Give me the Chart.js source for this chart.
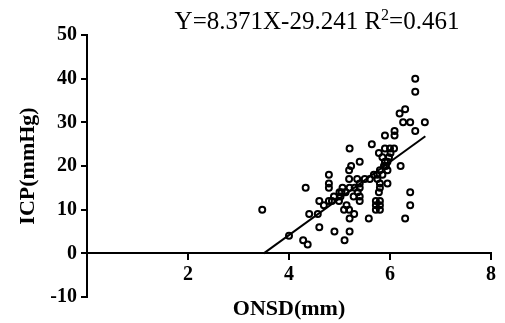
<!DOCTYPE html>
<html>
<head>
<meta charset="utf-8">
<script src="https://cdn.jsdelivr.net/npm/chart.js@4.4.0/dist/chart.umd.min.js"></script>
<style>
    html, body { margin: 0; padding: 0; background: #fff; }
    #wrap { width: 505px; height: 323px; }
</style>
</head>
<body>
<div id="wrap"><canvas id="scatterChart"></canvas></div>
<script>
// ONSD (mm) vs ICP (mmHg)
const onsdValues = [
    3.47, 4.0, 4.33, 4.28, 4.37, 4.4, 4.57, 4.6, 4.6, 4.69,
    4.79, 4.79, 4.79, 4.79, 4.89, 4.9, 4.99, 5.0, 5.06, 5.04,
    5.09, 5.1, 5.2, 5.2, 5.2, 5.19, 5.19, 5.23, 5.19, 5.2,
    5.29, 5.28, 5.3, 5.35, 5.36, 5.4, 5.4, 5.4, 5.4, 5.4,
    5.58, 5.64, 5.6, 5.68, 5.75, 5.72, 5.72, 5.72, 5.8, 5.8,
    5.8, 5.78, 5.8, 5.8, 5.78, 5.8, 5.9, 5.9, 5.95, 5.92,
    5.95, 5.98, 6.0, 6.08, 6.09, 6.09, 6.01, 6.21, 6.19, 6.3,
    6.26, 6.4, 6.3, 6.4, 6.4, 6.5, 6.5, 6.5, 6.69, 5.88,
    5.9, 5.85, 5.95, 5.75, 5.02, 4.85, 5.12, 5.14, 5.5, 5.85
];
const icpValues = [
    10, 4, 15, 3, 2, 9, 9, 12, 6, 11,
    12, 18, 16, 15, 13, 5, 12, 14, 15, 14,
    10, 3, 24, 5, 8, 10, 19, 20, 17, 15,
    9, 13, 15, 17, 14, 12, 21, 15, 13, 16,
    8, 25, 17, 18, 17, 12, 11, 10, 12, 11,
    10, 14, 15, 16, 23, 19, 27, 24, 16, 20,
    21, 22, 24, 24, 28, 27, 23, 20, 32, 33,
    30, 30, 8, 11, 14, 40, 37, 28, 30, 20,
    21, 22, 19, 18, 13, 12, 14, 11, 17, 18
];

// regression line end points, as drawn
const fitX = [3.5, 6.7];
const fitY = [0, 26.8];

const xTicks = [0, 2, 4, 6, 8];
const yTicks = [-10, 0, 10, 20, 30, 40, 50];

const equationMain = 'Y=8.371X-29.241 R';
const equationSup = '2';
const equationEnd = '=0.461';
const xTitle = 'ONSD(mm)';
const yTitle = 'ICP(mmHg)';

const serif = '"Liberation Serif", "Times New Roman", serif';

// draws the equation above the plot, with a raised 2
const equationPlugin = {
    id: 'equation',
    afterDraw(chart) {
        const ctx = chart.ctx;
        ctx.save();
        ctx.fillStyle = '#000';
        ctx.textBaseline = 'alphabetic';
        ctx.textAlign = 'left';
        ctx.font = '25px ' + serif;
        const w1 = ctx.measureText(equationMain).width;
        const w3 = ctx.measureText(equationEnd).width;
        ctx.font = '16px ' + serif;
        const w2 = ctx.measureText(equationSup).width;
        let x = 317 - (w1 + w2 + w3) / 2;
        const base = 29;
        ctx.font = '25px ' + serif;
        ctx.fillText(equationMain, x, base);
        x += w1;
        ctx.font = '16px ' + serif;
        ctx.fillText(equationSup, x, base - 9);
        x += w2;
        ctx.font = '25px ' + serif;
        ctx.fillText(equationEnd, x, base);
        ctx.restore();
    }
};

const ctx = document.getElementById('scatterChart').getContext('2d');
const scatterChart = new Chart(ctx, {
    type: 'scatter',
    data: {
        datasets: [{
            label: 'ICP',
            data: onsdValues.map((x, i) => ({ x: x, y: icpValues[i] })),
            pointStyle: 'circle',
            pointRadius: 3,
            pointBorderWidth: 2,
            pointBorderColor: '#000',
            pointBackgroundColor: 'rgba(0,0,0,0)',
            pointHoverRadius: 3
        }, {
            type: 'line',
            label: 'Fit',
            data: fitX.map((x, i) => ({ x: x, y: fitY[i] })),
            borderColor: '#000',
            borderWidth: 2,
            pointRadius: 0,
            fill: false
        }]
    },
    options: {
        responsive: true,
        maintainAspectRatio: false,
        animation: false,
        layout: {
            padding: { left: 0, right: 14, top: 35, bottom: 26 }
        },
        plugins: {
            legend: { display: false },
            tooltip: { enabled: false }
        },
        scales: {
            x: {
                type: 'linear',
                position: { y: 0 },
                min: 0,
                max: 8,
                afterBuildTicks: (scale) => {
                    scale.ticks = xTicks.map(v => ({ value: v }));
                },
                ticks: {
                    color: '#000',
                    font: { family: serif, size: 20, weight: 'bold' },
                    padding: 3,
                    callback: (v) => v === 0 ? '' : v
                },
                grid: {
                    drawOnChartArea: false,
                    drawTicks: true,
                    tickLength: 6,
                    color: '#000',
                    lineWidth: 2
                },
                border: { display: true, color: '#000', width: 2 },
                title: {
                    display: true,
                    text: xTitle,
                    color: '#000',
                    font: { family: serif, size: 22, weight: 'bold' },
                    padding: { top: 7, bottom: 0 }
                }
            },
            y: {
                type: 'linear',
                position: 'left',
                min: -10,
                max: 50,
                afterBuildTicks: (scale) => {
                    scale.ticks = yTicks.map(v => ({ value: v }));
                },
                afterFit: (scale) => {
                    scale.width = 87;
                },
                ticks: {
                    color: '#000',
                    font: { family: serif, size: 20, weight: 'bold' },
                    padding: 4
                },
                grid: {
                    drawOnChartArea: false,
                    drawTicks: true,
                    tickLength: 6,
                    color: '#000',
                    lineWidth: 2
                },
                border: { display: true, color: '#000', width: 2 },
                title: {
                    display: true,
                    text: yTitle,
                    color: '#000',
                    font: { family: serif, size: 22, weight: 'bold' },
                    padding: { top: 15, bottom: 0 }
                }
            }
        }
    },
    plugins: [equationPlugin]
});
</script>
</body>
</html>
